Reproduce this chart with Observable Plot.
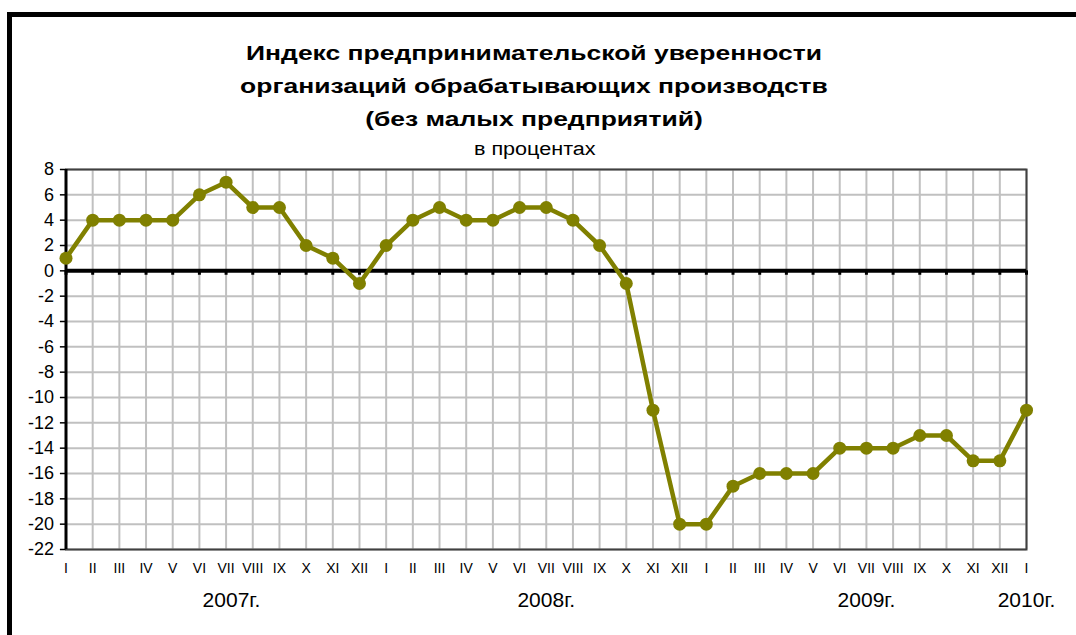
<!DOCTYPE html>
<html>
<head>
<meta charset="utf-8">
<script src="https://cdn.jsdelivr.net/npm/d3@7"></script>
<script src="https://cdn.jsdelivr.net/npm/@observablehq/plot@0.6"></script>
<style>
  html, body { margin: 0; padding: 0; background: white; }
  body { width: 1076px; height: 635px; position: relative; overflow: hidden; font-family: "Liberation Sans", Arial, sans-serif; }
  #frame { position: absolute; left: 7px; top: 12px; width: 1100px; height: 700px; border: 5px solid black; box-sizing: border-box; }
  #title { position: absolute; left: 0; top: 36px; width: 1068px; text-align: center; font-weight: bold; font-size: 21px; line-height: 33px; color: black; transform: scaleX(1.26); transform-origin: 534px 0; }
  #subtitle { position: absolute; left: 0; top: 139px; width: 1070px; text-align: center; font-size: 18px; line-height: 20px; color: black; transform: scaleX(1.2); transform-origin: 536px 0; }
  #chart { position: absolute; left: 0; top: 0; }
</style>
</head>
<body>
<div id="frame"></div>
<div id="title">Индекс предпринимательской уверенности<br>организаций обрабатывающих производств<br>(без малых предприятий)</div>
<div id="subtitle">в процентах</div>
<div id="chart"></div>
<script>
const months = ["I","II","III","IV","V","VI","VII","VIII","IX","X","XI","XII",
                "I","II","III","IV","V","VI","VII","VIII","IX","X","XI","XII",
                "I","II","III","IV","V","VI","VII","VIII","IX","X","XI","XII",
                "I"];
const values = [1,4,4,4,4,6,7,5,5,2,1,-1,
                2,4,5,4,4,5,5,4,2,-1,-11,-20,
                -20,-17,-16,-16,-16,-14,-14,-14,-13,-13,-15,-15,
                -11];
const yTicks = [-22,-20,-18,-16,-14,-12,-10,-8,-6,-4,-2,0,2,4,6,8];
const yearLabels = ["2007г.","2008г.","2009г.","2010г."];
const yearIndex = [6.2, 18, 30, 36];

const data = values.map((v, i) => ({i, v, m: months[i]}));
const idx = months.map((_, i) => i);
const years = yearLabels.map((t, k) => ({t, x: yearIndex[k]}));
const font = "Liberation Sans, Arial, sans-serif";

const chart = Plot.plot({
  width: 1076,
  height: 635,
  marginLeft: 65.5,
  marginRight: 50,
  marginTop: 169,
  marginBottom: 86,
  axis: null,
  style: {background: "transparent", fontFamily: font, color: "black"},
  x: {type: "linear", domain: [0, 36], label: null},
  y: {type: "linear", domain: [-22, 8], label: null},
  marks: [
    Plot.ruleX(idx, {x: d => d, stroke: "#c0c0c0", strokeWidth: 2}),
    Plot.ruleY(yTicks, {y: d => d, stroke: "#c0c0c0", strokeWidth: 2}),
    Plot.frame({stroke: "#404040", strokeWidth: 2}),
    Plot.ruleX([0], {stroke: "black", strokeWidth: 3}),
    Plot.ruleY(yTicks, {y: d => d, x1: -0.21, x2: 0, stroke: "black", strokeWidth: 1.5}),
    Plot.ruleX(idx, {x: d => d, y1: 0, y2: -0.35, stroke: "black", strokeWidth: 3}),
    Plot.ruleY([0], {stroke: "black", strokeWidth: 4}),
    Plot.text(yTicks, {x: 0, y: d => d, text: d => String(d), textAnchor: "end", dx: -12, fontSize: 18, fill: "black", fontFamily: font}),
    Plot.text(idx, {x: d => d, text: i => months[i], frameAnchor: "bottom", dy: 23, fontSize: 14, fill: "black", fontFamily: font}),
    Plot.text(years, {x: "x", text: "t", frameAnchor: "bottom", dy: 57, fontSize: 21, fill: "black", fontFamily: font}),
    Plot.line(data, {x: "i", y: "v", stroke: "#808000", strokeWidth: 4.5}),
    Plot.dot(data, {x: "i", y: "v", r: 6.5, fill: "#808000", stroke: "none"})
  ]
});
document.getElementById("chart").appendChild(chart);
</script>
</body>
</html>
